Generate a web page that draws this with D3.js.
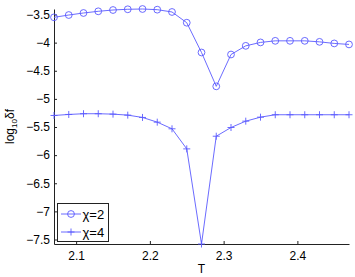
<!DOCTYPE html>
<html>
<head>
<meta charset="utf-8">
<script src="https://cdn.jsdelivr.net/npm/d3@7"></script>
<style>
  body { margin: 0; background: #fff; }
  text { font-family: "Liberation Sans", Arial, sans-serif; }
</style>
</head>
<body>
<div class="chart"></div>
<script>
const temps = [2.07, 2.09, 2.11, 2.13, 2.15, 2.17, 2.19, 2.21, 2.23, 2.25, 2.27,
               2.29, 2.31, 2.33, 2.35, 2.37, 2.39, 2.41, 2.43, 2.45, 2.47];
const chi2 = [-3.55, -3.509, -3.473, -3.443, -3.42, -3.407, -3.402, -3.414, -3.455, -3.646, -4.175,
              -4.777, -4.211, -4.057, -3.996, -3.968, -3.968, -3.968, -3.986, -4.014, -4.032];
const chi4 = [-5.295, -5.277, -5.264, -5.264, -5.271, -5.289, -5.33, -5.414, -5.532, -5.889, -7.58,
              -5.664, -5.509, -5.396, -5.325, -5.282, -5.282, -5.282, -5.282, -5.282, -5.282];
const xTicks = [2.1, 2.2, 2.3, 2.4];
const yTicks = [-3.5, -4, -4.5, -5, -5.5, -6, -6.5, -7, -7.5];
const seriesNames = ["χ=2", "χ=4"];

const width = 355, height = 277;
const margin = {left: 54, right: 6, top: 9, bottom: 33};
const blue = "#5a5aff";

const svg = d3.select(".chart").append("svg")
    .attr("width", width).attr("height", height)
    .attr("viewBox", [0, 0, width, height]);

const x = d3.scaleLinear()
    .domain(d3.extent(temps))
    .range([margin.left, width - margin.right]);
const y = d3.scaleLinear()
    .domain(d3.extent(chi2.concat(chi4)))
    .range([height - margin.bottom, margin.top]);

const fmt = d => (d < 0 ? "\u2212" : "") + Math.abs(d);

// axes (ticks pointing inward, box off)
const xAxis = svg.append("g")
    .attr("transform", `translate(0,${height - margin.bottom})`)
    .call(d3.axisBottom(x).tickValues(xTicks).tickSizeInner(-3).tickSizeOuter(0).tickPadding(7).tickFormat(d3.format(".1f")));
const yAxis = svg.append("g")
    .attr("transform", `translate(${margin.left},0)`)
    .call(d3.axisLeft(y).tickValues(yTicks).tickSizeInner(-3).tickSizeOuter(0).tickPadding(4).tickFormat(fmt));

[xAxis, yAxis].forEach(g => {
  g.select(".domain").attr("stroke", "#222").attr("stroke-width", 1);
  g.selectAll(".tick line").attr("stroke", "#222");
  g.selectAll(".tick text").attr("font-size", 12).attr("fill", "#000")
    .attr("font-family", "Liberation Sans, Arial, sans-serif");
});

// labels
svg.append("text")
    .attr("x", x(2.27)).attr("y", 273)
    .attr("text-anchor", "middle").attr("font-size", 12)
    .text("T");

const yl = svg.append("text")
    .attr("transform", `translate(14,${(margin.top + height - margin.bottom) / 2}) rotate(-90)`)
    .attr("text-anchor", "middle").attr("font-size", 12);
yl.append("tspan").text("log");
yl.append("tspan").attr("font-size", 8).attr("dy", 3).text("10");
yl.append("tspan").attr("dy", -3).text("δf");

const line = d3.line()
    .x((d, i) => x(temps[i]))
    .y(d => y(d));

function drawMarker(g, type, cx, cy) {
  if (type === "circle") {
    g.append("circle").attr("cx", cx).attr("cy", cy).attr("r", 3.4)
      .attr("fill", "none").attr("stroke", blue).attr("stroke-width", 0.9);
  } else {
    g.append("path").attr("d", `M${cx - 3.5},${cy}H${cx + 3.5}M${cx},${cy - 3.5}V${cy + 3.5}`)
      .attr("stroke", blue).attr("stroke-width", 0.9);
  }
}

[[chi2, "circle"], [chi4, "plus"]].forEach(([vals, type]) => {
  svg.append("path")
      .datum(vals)
      .attr("d", line)
      .attr("fill", "none")
      .attr("stroke", blue)
      .attr("stroke-width", 0.9);
  const mg = svg.append("g");
  vals.forEach((v, i) => drawMarker(mg, type, x(temps[i]), y(v)));
});

// legend
const lg = svg.append("g");
lg.append("rect")
    .attr("x", 57.5).attr("y", 203.5).attr("width", 51).attr("height", 38)
    .attr("fill", "#fff").attr("stroke", "#222").attr("stroke-width", 1);
seriesNames.forEach((name, i) => {
  const ly = 214 + i * 18;
  lg.append("line").attr("x1", 61).attr("x2", 81).attr("y1", ly).attr("y2", ly)
    .attr("stroke", blue).attr("stroke-width", 0.9);
  drawMarker(lg, i === 0 ? "circle" : "plus", 71, ly);
  lg.append("text").attr("x", 82.5).attr("y", ly + 4.5).attr("font-size", 13).text(name);
});
</script>
</body>
</html>
